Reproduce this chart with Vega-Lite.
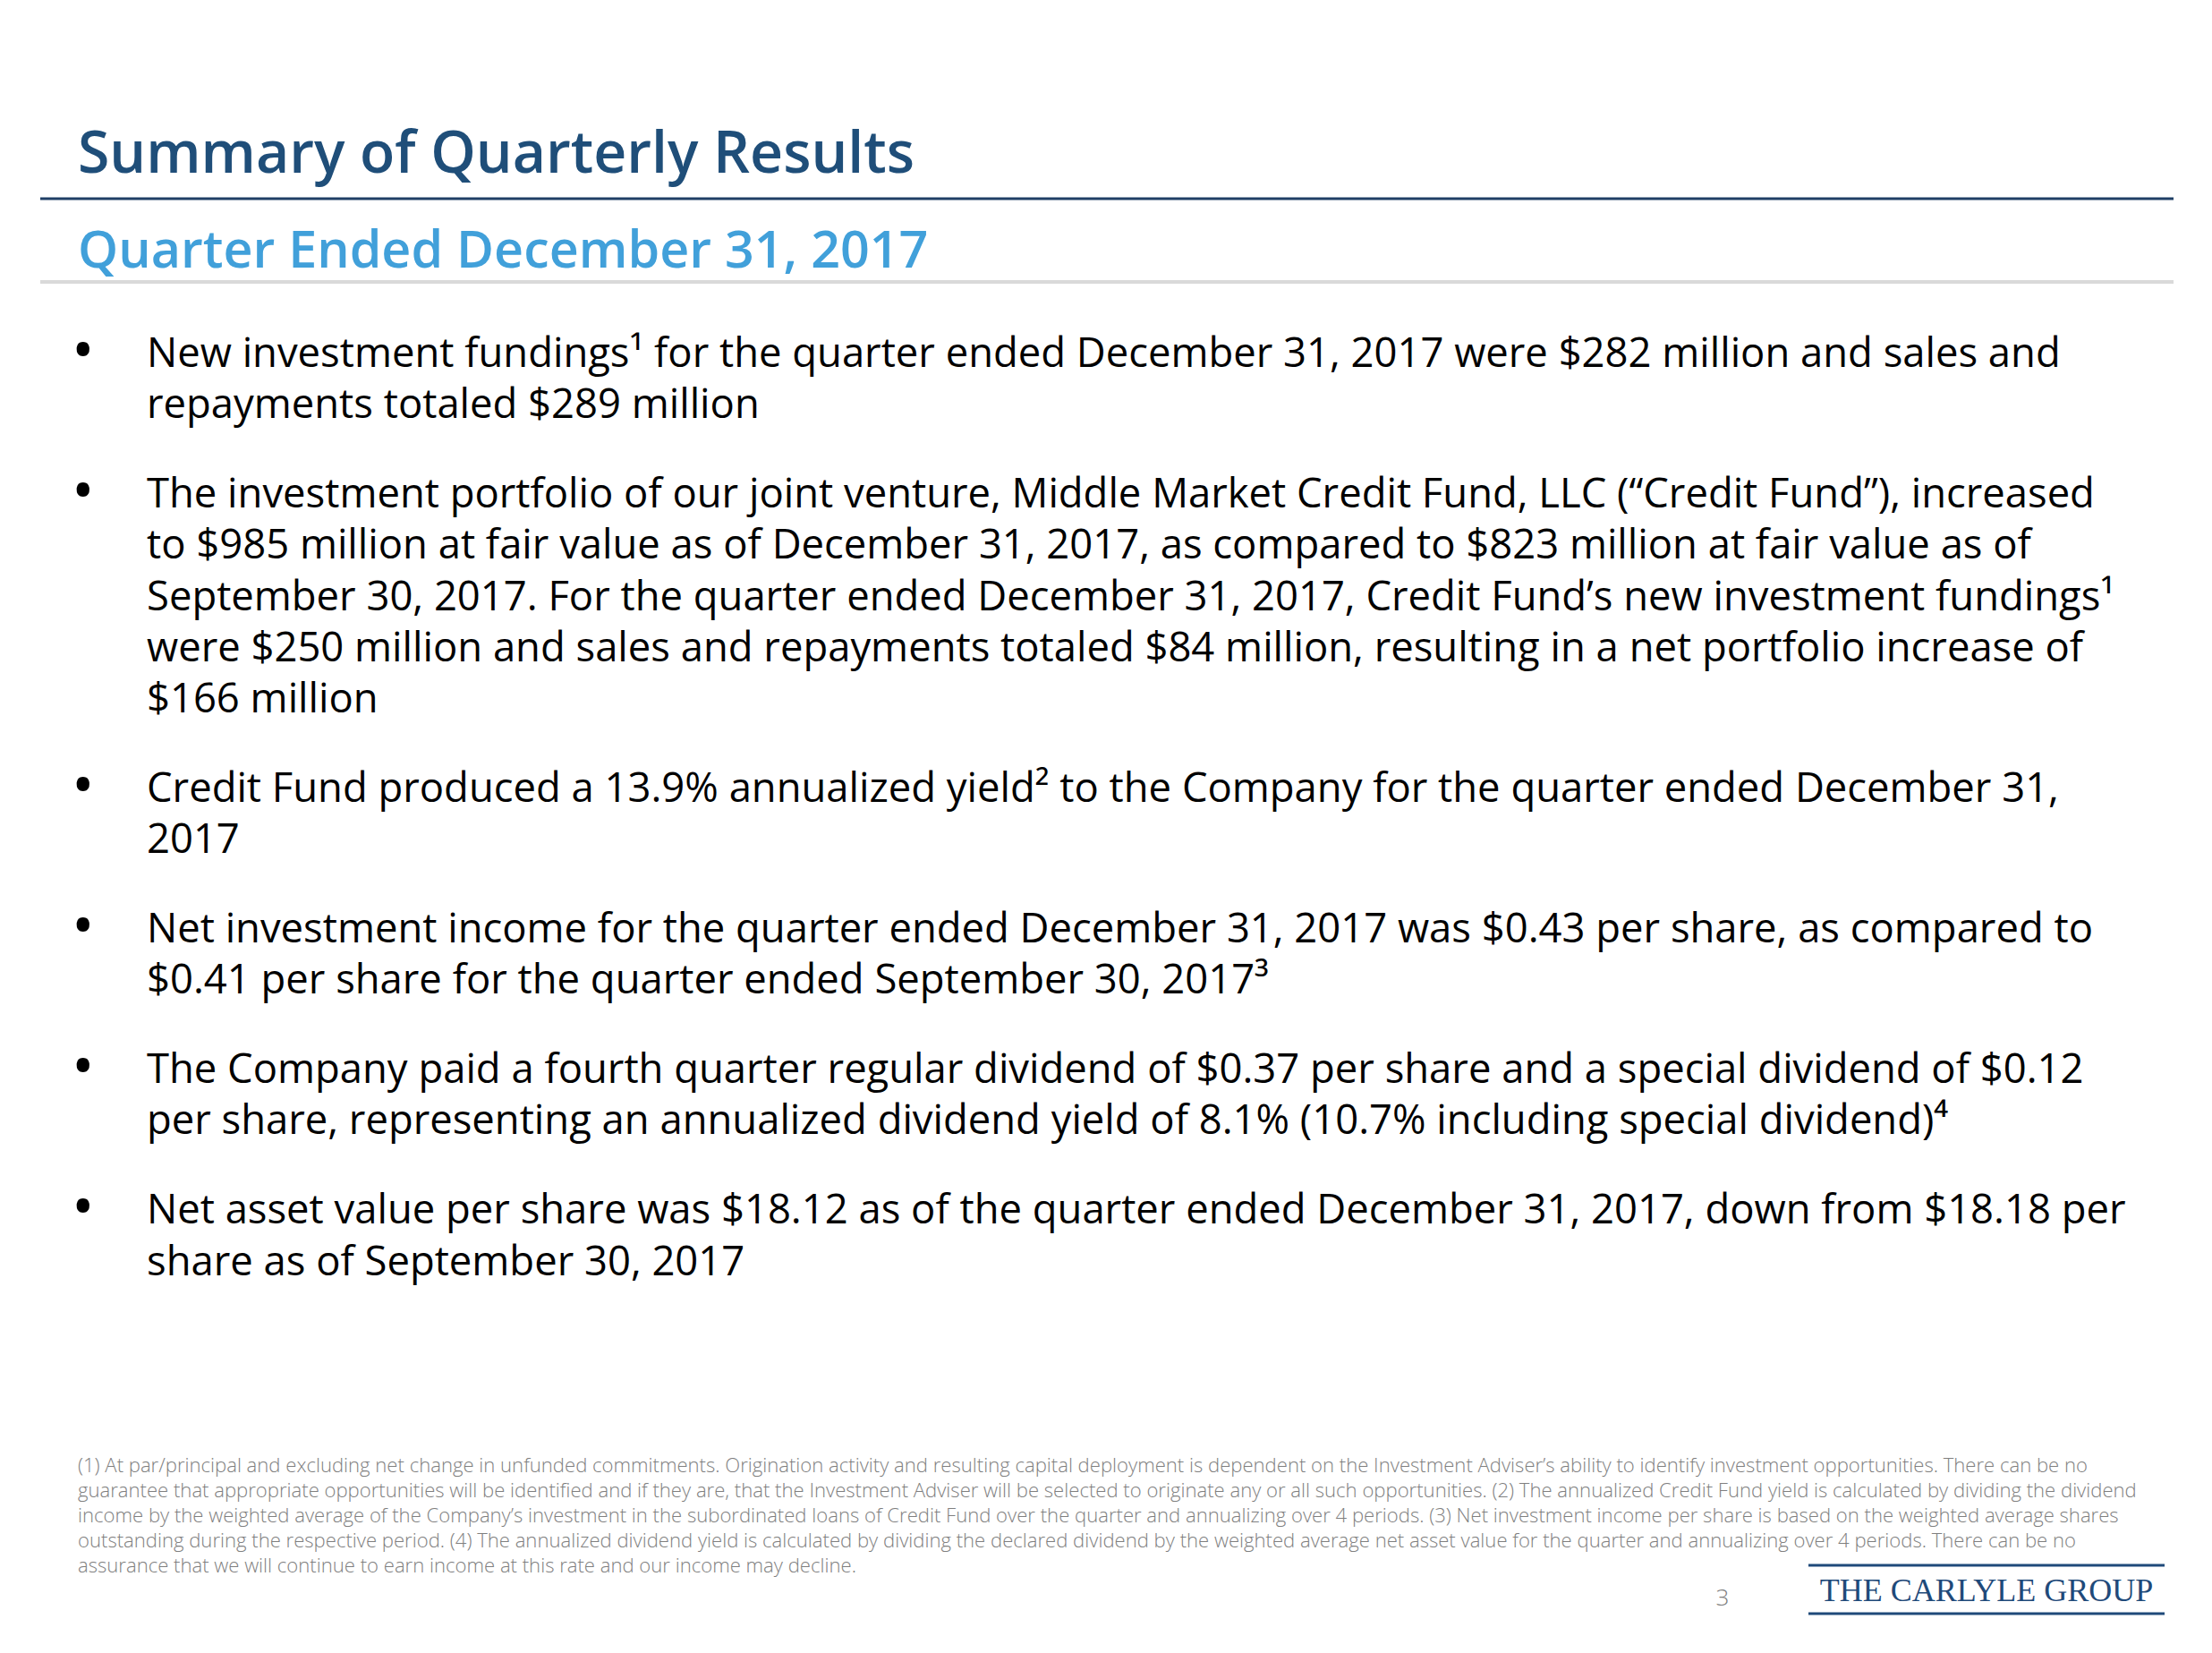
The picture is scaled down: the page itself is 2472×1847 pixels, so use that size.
{
  "$schema": "https://vega.github.io/schema/vega-lite/v6.json",
  "width": 2472,
  "height": 1847,
  "autosize": {"type": "fit", "contains": "padding"},
  "padding": 0,
  "background": "white",
  "config": {"view": {"stroke": null}},
  "datasets": {
    "header": [
      {"part": "title", "text": "Summary of Quarterly Results"},
      {"part": "subtitle", "text": "Quarter Ended December 31, 2017"}
    ],
    "headerRules": [
      {"rule": "title"},
      {"rule": "subtitle"}
    ],
    "body": [
      {"para": 1, "line": 1, "pline": 1, "text": "New investment fundings¹ for the quarter ended December 31, 2017 were $282 million and sales and"},
      {"para": 1, "line": 2, "pline": 2, "text": "repayments totaled $289 million"},
      {"para": 2, "line": 3, "pline": 1, "text": "The investment portfolio of our joint venture, Middle Market Credit Fund, LLC (“Credit Fund”), increased"},
      {"para": 2, "line": 4, "pline": 2, "text": "to $985 million at fair value as of December 31, 2017, as compared to $823 million at fair value as of"},
      {"para": 2, "line": 5, "pline": 3, "text": "September 30, 2017. For the quarter ended December 31, 2017, Credit Fund’s new investment fundings¹"},
      {"para": 2, "line": 6, "pline": 4, "text": "were $250 million and sales and repayments totaled $84 million, resulting in a net portfolio increase of"},
      {"para": 2, "line": 7, "pline": 5, "text": "$166 million"},
      {"para": 3, "line": 8, "pline": 1, "text": "Credit Fund produced a 13.9% annualized yield² to the Company for the quarter ended December 31,"},
      {"para": 3, "line": 9, "pline": 2, "text": "2017"},
      {"para": 4, "line": 10, "pline": 1, "text": "Net investment income for the quarter ended December 31, 2017 was $0.43 per share, as compared to"},
      {"para": 4, "line": 11, "pline": 2, "text": "$0.41 per share for the quarter ended September 30, 2017³"},
      {"para": 5, "line": 12, "pline": 1, "text": "The Company paid a fourth quarter regular dividend of $0.37 per share and a special dividend of $0.12"},
      {"para": 5, "line": 13, "pline": 2, "text": "per share, representing an annualized dividend yield of 8.1% (10.7% including special dividend)⁴"},
      {"para": 6, "line": 14, "pline": 1, "text": "Net asset value per share was $18.12 as of the quarter ended December 31, 2017, down from $18.18 per"},
      {"para": 6, "line": 15, "pline": 2, "text": "share as of September 30, 2017"}
    ],
    "footnote": [
      {"line": 1, "text": "(1) At par/principal and excluding net change in unfunded commitments. Origination activity and resulting capital deployment is dependent on the Investment Adviser’s ability to identify investment opportunities. There can be no"},
      {"line": 2, "text": "guarantee that appropriate opportunities will be identified and if they are, that the Investment Adviser will be selected to originate any or all such opportunities. (2) The annualized Credit Fund yield is calculated by dividing the dividend"},
      {"line": 3, "text": "income by the weighted average of the Company’s investment in the subordinated loans of Credit Fund over the quarter and annualizing over 4 periods. (3) Net investment income per share is based on the weighted average shares"},
      {"line": 4, "text": "outstanding during the respective period. (4) The annualized dividend yield is calculated by dividing the declared dividend by the weighted average net asset value for the quarter and annualizing over 4 periods. There can be no"},
      {"line": 5, "text": "assurance that we will continue to earn income at this rate and our income may decline."}
    ],
    "footer": [
      {"item": "page", "text": "3"},
      {"item": "logo", "text": "THE CARLYLE GROUP"}
    ],
    "logoRules": [
      {"rule": "top"},
      {"rule": "bottom"}
    ]
  },
  "resolve": {"scale": {"y": "independent", "color": "independent", "size": "independent", "strokeWidth": "independent"}},
  "layer": [
    {
      "data": {"name": "headerRules"},
      "mark": {"type": "rule"},
      "encoding": {
        "x": {"datum": 45, "type": "quantitative", "scale": {"domain": [0, 2472], "nice": false, "zero": false}, "axis": null},
        "x2": {"datum": 2429},
        "y": {"field": "rule", "type": "nominal", "scale": {"type": "point", "domain": ["title", "subtitle"], "range": [222, 315], "padding": 0}, "axis": null},
        "color": {"field": "rule", "type": "nominal", "scale": {"domain": ["title", "subtitle"], "range": ["#1F3F66", "#D9D9D9"]}, "legend": null},
        "strokeWidth": {"field": "rule", "type": "nominal", "scale": {"domain": ["title", "subtitle"], "range": [3, 4]}, "legend": null}
      }
    },
    {
      "data": {"name": "header"},
      "mark": {"type": "text", "font": "Open Sans", "fontWeight": 600, "align": "left", "baseline": "alphabetic"},
      "encoding": {
        "x": {"datum": 87, "type": "quantitative", "scale": {"domain": [0, 2472], "nice": false, "zero": false}, "axis": null},
        "y": {"field": "part", "type": "nominal", "scale": {"type": "point", "domain": ["title", "subtitle"], "range": [193, 299], "padding": 0}, "axis": null},
        "color": {"field": "part", "type": "nominal", "scale": {"domain": ["title", "subtitle"], "range": ["#1F4E79", "#41A0DA"]}, "legend": null},
        "size": {"field": "part", "type": "ordinal", "scale": {"domain": ["title", "subtitle"], "range": [64.3, 57.4]}, "legend": null},
        "text": {"field": "text", "type": "nominal"}
      }
    },
    {
      "data": {"name": "body"},
      "mark": {"type": "text", "font": "Open Sans", "fontSize": 45.4, "color": "#000000", "align": "left", "baseline": "alphabetic"},
      "encoding": {
        "x": {"datum": 164, "type": "quantitative", "scale": {"domain": [0, 2472], "nice": false, "zero": false}, "axis": null},
        "y": {"field": "line", "type": "quantitative", "scale": {"type": "linear", "domain": [1, 2, 3, 7, 8, 9, 10, 11, 12, 13, 14, 15], "range": [410, 467, 567, 796, 896, 953, 1053, 1110, 1210, 1267, 1367, 1425], "nice": false, "zero": false}, "axis": null},
        "text": {"field": "text", "type": "nominal"}
      }
    },
    {
      "data": {"name": "body"},
      "transform": [{"filter": "datum.pline == 1"}],
      "mark": {"type": "text", "font": "Open Sans", "fontSize": 68, "color": "#000000", "align": "left", "baseline": "alphabetic", "text": "•", "dy": 5},
      "encoding": {
        "x": {"datum": 80, "type": "quantitative", "scale": {"domain": [0, 2472], "nice": false, "zero": false}, "axis": null},
        "y": {"field": "line", "type": "quantitative", "scale": {"type": "linear", "domain": [1, 2, 3, 7, 8, 9, 10, 11, 12, 13, 14, 15], "range": [410, 467, 567, 796, 896, 953, 1053, 1110, 1210, 1267, 1367, 1425], "nice": false, "zero": false}, "axis": null}
      }
    },
    {
      "data": {"name": "footnote"},
      "mark": {"type": "text", "font": "Open Sans", "fontSize": 22.1, "fontWeight": 300, "color": "#7F7F7F", "align": "left", "baseline": "alphabetic"},
      "encoding": {
        "x": {"datum": 87, "type": "quantitative", "scale": {"domain": [0, 2472], "nice": false, "zero": false}, "axis": null},
        "y": {"field": "line", "type": "quantitative", "scale": {"domain": [1, 5], "range": [1645, 1756.6], "nice": false, "zero": false}, "axis": null},
        "text": {"field": "text", "type": "nominal"}
      }
    },
    {
      "data": {"name": "footer"},
      "transform": [{"filter": "datum.item == 'page'"}],
      "mark": {"type": "text", "font": "Open Sans", "fontSize": 26, "fontWeight": 300, "color": "#7F7F7F", "align": "center", "baseline": "alphabetic"},
      "encoding": {
        "x": {"datum": 1925, "type": "quantitative", "scale": {"domain": [0, 2472], "nice": false, "zero": false}, "axis": null},
        "y": {"field": "item", "type": "nominal", "scale": {"type": "point", "domain": ["page"], "range": [1794, 1794], "padding": 0}, "axis": null},
        "text": {"field": "text", "type": "nominal"}
      }
    },
    {
      "data": {"name": "footer"},
      "transform": [{"filter": "datum.item == 'logo'"}],
      "mark": {"type": "text", "font": "Liberation Serif", "fontSize": 36, "color": "#1F4A7A", "align": "center", "baseline": "alphabetic"},
      "encoding": {
        "x": {"datum": 2220, "type": "quantitative", "scale": {"domain": [0, 2472], "nice": false, "zero": false}, "axis": null},
        "y": {"field": "item", "type": "nominal", "scale": {"type": "point", "domain": ["logo"], "range": [1789, 1789], "padding": 0}, "axis": null},
        "text": {"field": "text", "type": "nominal"}
      }
    },
    {
      "data": {"name": "logoRules"},
      "mark": {"type": "rule", "color": "#1F4A7A"},
      "encoding": {
        "x": {"datum": 2021, "type": "quantitative", "scale": {"domain": [0, 2472], "nice": false, "zero": false}, "axis": null},
        "x2": {"datum": 2419},
        "y": {"field": "rule", "type": "nominal", "scale": {"type": "point", "domain": ["top", "bottom"], "range": [1749, 1803], "padding": 0}, "axis": null},
        "strokeWidth": {"field": "rule", "type": "nominal", "scale": {"domain": ["top", "bottom"], "range": [3, 3]}, "legend": null}
      }
    }
  ]
}
